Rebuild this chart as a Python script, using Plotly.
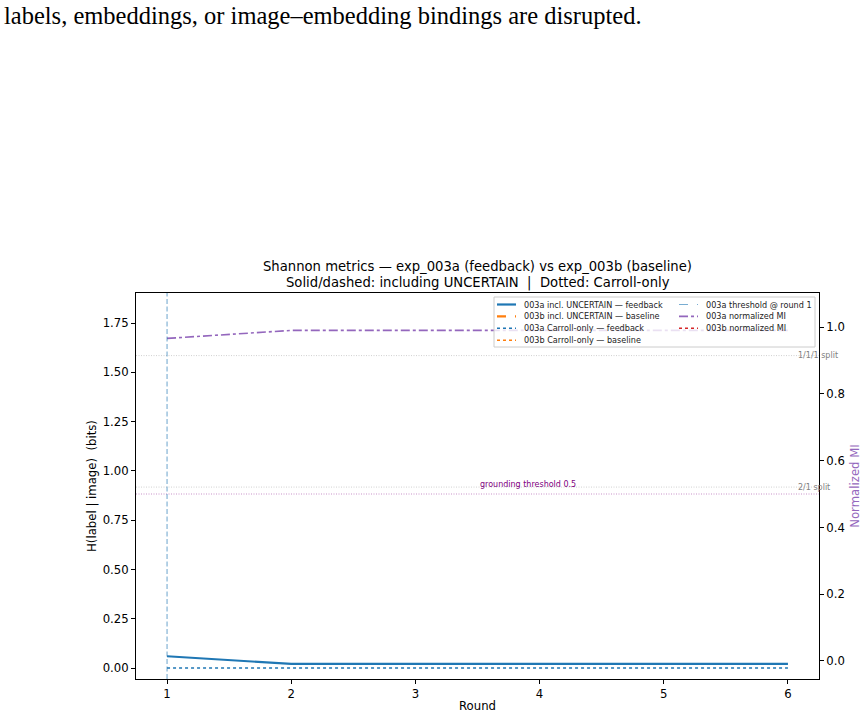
import plotly.graph_objects as go

# ---------------- data ----------------
rounds = [1, 2, 3, 4, 5, 6]
h_incl_003a = [0.060, 0.021, 0.021, 0.021, 0.021, 0.021]
h_incl_003b = [None, None, None, None, None, None]
h_carroll_003a = [0.0, 0.0, 0.0, 0.0, 0.0, 0.0]
h_carroll_003b = [None, None, None, None, None, None]
nmi_003a = [0.966, 0.990, 0.990, 0.990, 0.990, 0.990]
nmi_003b = [None, None, None, None, None, None]
threshold_round_003a = 1
split_values = [1.585, 0.918]
split_labels = ["1/1/1 split", "2/1 split"]
grounding_threshold = 0.5

series_names = [
    "003a incl. UNCERTAIN — feedback",
    "003b incl. UNCERTAIN — baseline",
    "003a Carroll-only — feedback",
    "003b Carroll-only — baseline",
    "003a threshold @ round 1",
    "003a normalized MI",
    "003b normalized MI",
]

BLUE = "#1f77b4"
ORANGE = "#ff7f0e"
PURPLE = "#9467bd"
RED = "#d62728"
LIGHTBLUE = "rgba(31,119,180,0.6)"

W, H = 864, 717
L, R, T, B = 136, 45, 293, 38
PW, PH = W - L - R, H - T - B

def px_x(x):
    return (x - L) / PW

def px_y(y):
    return (H - B - y) / PH

fig = go.Figure()

fig.add_trace(go.Scatter(x=rounds, y=h_incl_003a, mode="lines", name=series_names[0],
                         line=dict(color=BLUE, width=2.2), showlegend=False))
fig.add_trace(go.Scatter(x=rounds, y=h_incl_003b, mode="lines", name=series_names[1],
                         line=dict(color=ORANGE, width=2.2, dash="dash"), showlegend=False))
fig.add_trace(go.Scatter(x=rounds, y=h_carroll_003a, mode="lines", name=series_names[2],
                         line=dict(color=BLUE, width=1.6, dash="dot"), showlegend=False))
fig.add_trace(go.Scatter(x=rounds, y=h_carroll_003b, mode="lines", name=series_names[3],
                         line=dict(color=ORANGE, width=1.6, dash="dot"), showlegend=False))
fig.add_trace(go.Scatter(x=rounds, y=nmi_003a, mode="lines", name=series_names[5], yaxis="y2",
                         line=dict(color=PURPLE, width=1.6, dash="dashdot"), showlegend=False))
fig.add_trace(go.Scatter(x=rounds, y=nmi_003b, mode="lines", name=series_names[6], yaxis="y2",
                         line=dict(color=RED, width=1.6, dash="dot"), showlegend=False))

shapes = []
annotations = []

# threshold vertical line
shapes.append(dict(type="line", xref="x", yref="paper", x0=threshold_round_003a, x1=threshold_round_003a,
                   y0=0, y1=1, line=dict(color=LIGHTBLUE, width=1.1, dash="5px,2.5px"), layer="above"))

# split reference lines
for v, lab in zip(split_values, split_labels):
    shapes.append(dict(type="line", xref="paper", yref="y", x0=0, x1=1, y0=v, y1=v,
                       line=dict(color="rgba(150,150,150,0.55)", width=0.8, dash="1px,1.5px"), layer="below"))
    annotations.append(dict(x=6.065, y=v, xref="x", yref="y", text=lab, showarrow=False,
                            xanchor="left", yanchor="middle",
                            font=dict(size=8, color="gray", family="DejaVu Sans")))

# grounding threshold line (right axis)
shapes.append(dict(type="line", xref="paper", yref="y2", x0=0, x1=1, y0=grounding_threshold, y1=grounding_threshold,
                   line=dict(color="rgba(128,0,128,0.55)", width=0.8, dash="1px,1.5px"), layer="below"))
annotations.append(dict(x=3.5, y=grounding_threshold + 0.01, xref="x", yref="y2",
                        text=f"grounding threshold {grounding_threshold}", showarrow=False,
                        xanchor="left", yanchor="bottom",
                        font=dict(size=8, color="purple", family="DejaVu Sans")))

# manual legend box
shapes.append(dict(type="rect", xref="paper", yref="paper",
                   x0=px_x(494), x1=px_x(815), y0=px_y(347), y1=px_y(297),
                   fillcolor="rgba(255,255,255,0.8)", line=dict(color="rgba(204,204,204,1)", width=1),
                   layer="above"))
legend_styles = [
    (BLUE, 2.2, "solid"), (ORANGE, 2.2, "dash"), (BLUE, 1.6, "dot"), (ORANGE, 1.6, "dot"),
    ("rgba(31,119,180,0.6)", 1.1, "dash"), (PURPLE, 1.6, "dashdot"), (RED, 1.6, "dot"),
]
for i, (name, (col, wdt, dsh)) in enumerate(zip(series_names, legend_styles)):
    c, r = (0, i) if i < 4 else (1, i - 4)
    sx = 497 if c == 0 else 679
    yy = 304.5 + 11.9 * r
    shapes.append(dict(type="line", xref="paper", yref="paper",
                       x0=px_x(sx), x1=px_x(sx + 19), y0=px_y(yy), y1=px_y(yy),
                       line=dict(color=col, width=wdt, dash=dsh), layer="above"))
    annotations.append(dict(x=px_x(sx + 25), y=px_y(yy), xref="paper", yref="paper", text=name,
                            showarrow=False, xanchor="left", yanchor="middle",
                            font=dict(size=8.1, color="#222", family="DejaVu Sans")))

# paper text fragment at the top
annotations.append(dict(x=px_x(2), y=px_y(15), xref="paper", yref="paper",
                        text="labels, embeddings, or image–embedding bindings are disrupted.",
                        showarrow=False, xanchor="left", yanchor="middle",
                        font=dict(size=24.5, color="black", family="Liberation Serif")))

# title lines
annotations.append(dict(x=0.5, y=px_y(266.5), xref="paper", yref="paper",
                        text="Shannon metrics — exp_003a (feedback) vs exp_003b (baseline)",
                        showarrow=False, xanchor="center", yanchor="middle",
                        font=dict(size=13.2, color="black", family="DejaVu Sans")))
annotations.append(dict(x=0.5, y=px_y(283.5), xref="paper", yref="paper",
                        text="Solid/dashed: including UNCERTAIN  |  Dotted: Carroll-only",
                        showarrow=False, xanchor="center", yanchor="middle",
                        font=dict(size=13.2, color="black", family="DejaVu Sans")))

axis_common = dict(showgrid=False, zeroline=False, showline=True, linecolor="black", linewidth=1,
                   ticks="outside", ticklen=4, tickcolor="black",
                   tickfont=dict(size=11.7, color="black", family="DejaVu Sans"))

fig.update_layout(
    width=W, height=H,
    margin=dict(l=L, r=R, t=T, b=B, autoexpand=False),
    paper_bgcolor="white", plot_bgcolor="white",
    showlegend=False,
    font=dict(family="DejaVu Sans", color="black"),
    xaxis=dict(range=[0.75, 6.25], tickvals=rounds, mirror=True,
               title=dict(text="Round", font=dict(size=11.7), standoff=1), **axis_common),
    yaxis=dict(range=[-0.0555, 1.9025], tickvals=[0, 0.25, 0.5, 0.75, 1.0, 1.25, 1.5, 1.75],
               tickformat=".2f", mirror=True,
               title=dict(text="H(label | image)  (bits)", font=dict(size=11.7), standoff=3), **axis_common),
    yaxis2=dict(range=[-0.054, 1.102], overlaying="y", side="right", tickvals=[0, 0.2, 0.4, 0.6, 0.8, 1.0],
                tickformat=".1f",
                title=dict(text="Normalized MI", font=dict(size=11.7, color=PURPLE), standoff=6), **axis_common),
    shapes=shapes,
    annotations=annotations,
)

fig.write_html("out.html")
